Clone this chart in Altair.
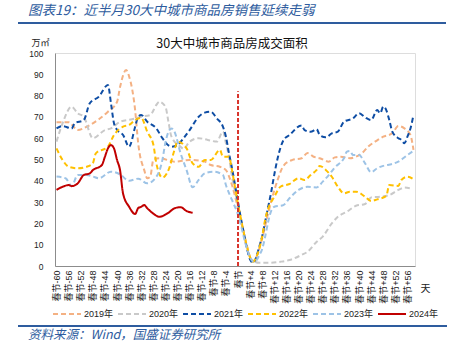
import altair as alt
import pandas as pd

years = ["2019年", "2020年", "2021年", "2022年", "2023年", "2024年"]
colors = ["#F4B183", "#C9C9C9", "#0E4DA4", "#FFC000", "#9DC3E6", "#C00000"]

d_2019 = [-60, -56, -53, -50, -46, -43, -40, -39, -37, -36, -34, -33, -31, -30, -29, -28, -26, -21, -16, -11, -9, -6, -4, -2, 0, 1, 2, 3, 4, 5, 6, 7, 8, 10, 13, 15, 18, 21, 23, 25, 27, 30, 32, 34, 37, 39, 41, 43, 46, 48, 51, 53, 55, 57, 58]
v_2019 = [67.5, 67.5, 63.8, 65.4, 68.9, 72.4, 77, 84, 92, 89, 73, 57.6, 45, 41.2, 42, 49.8, 50.6, 49, 49.8, 49, 47.4, 46.6, 45, 38, 27, 21, 15, 9, 4, 2, 4, 8, 13, 25, 40, 47, 49.8, 50.6, 53, 51.3, 50.6, 49, 51, 51.3, 50.6, 51.3, 53, 56, 59, 60.7, 62.3, 65.7, 64.6, 61.5, 54.5]

d_2020 = [-60, -58, -55, -53, -51, -48, -44, -42, -39, -35, -32, -29, -27, -26, -24, -23, -22, -19, -18, -16, -13, -10, -7, -5, -4, -3, -2, -1, 0, 1, 2, 3, 4, 5, 7, 10, 14, 17, 21, 23, 26, 28, 31, 33, 36, 39, 42, 44, 47, 50, 53, 55, 57]
v_2020 = [58.4, 67, 74.8, 71.7, 70.1, 60, 63.8, 64.6, 67.7, 68.9, 70.1, 70.9, 75.6, 77.1, 74.8, 67.7, 60.7, 56, 55, 58.4, 60, 59.2, 58.4, 63.1, 57.6, 51.3, 42, 35, 28, 21, 14, 8, 4, 2.5, 1.5, 1.5, 2, 2.8, 5.2, 6.7, 11.4, 13.8, 20, 23.1, 25.5, 28.3, 29.1, 32.2, 32.5, 33.3, 35.7, 36.8, 36.5]

d_2021 = [-60, -58, -55, -54, -51, -49, -46, -43, -42, -41, -40, -38, -36, -34, -33, -32, -30, -27, -25, -22, -20, -18, -16, -13, -11, -9, -7, -5, -4, -3, -2, -1, 0, 1, 2, 3, 4, 5, 6, 7, 8, 9, 10, 11, 12, 13, 15, 17, 21, 22, 24, 26, 27, 29, 31, 33, 35, 38, 40, 42, 44, 46, 47, 48, 49, 50, 51, 53, 54, 55, 56, 57, 58]
v_2021 = [64.6, 65.7, 64.6, 67, 68.5, 76.4, 79.5, 85, 76.4, 67, 64, 61.5, 56, 65.4, 70.1, 70.9, 67.7, 64.6, 60, 56, 56.8, 60, 63.8, 70.1, 72, 72.4, 69.3, 65.4, 60.7, 52.9, 46, 38, 30, 22, 15, 8, 3, 1.5, 4, 9, 14, 21, 28, 35, 43, 50, 59, 61.5, 66, 63.8, 63, 64.2, 61.5, 60.4, 62.3, 63.1, 67.7, 69.3, 71.7, 69.8, 68.5, 73.2, 71.7, 74.8, 73.2, 68.5, 63.1, 60, 59.2, 57.6, 60.7, 64.6, 70.9]

d_2022 = [-60, -58, -56, -53, -50, -48, -47, -43, -41, -38, -36, -34, -32, -30, -28, -27, -25, -23, -21, -20, -17, -15, -13, -11, -9, -6, -5, -3, -2, -1, 0, 1, 2, 3, 4, 5, 6, 7, 8, 9, 10, 12, 14, 17, 20, 22, 24, 26, 27, 29, 31, 33, 35, 37, 39, 42, 44, 46, 49, 50, 53, 54, 56, 58]
v_2022 = [55.2, 49.8, 46.6, 45.9, 46.6, 48.2, 52.9, 56, 61.5, 65.4, 66.2, 68.5, 69.5, 63, 57, 48.2, 41.5, 45, 54.5, 58.4, 55.2, 48.2, 46.6, 49.8, 49.8, 54.5, 51.3, 51.3, 45, 37, 29, 22, 15, 9, 4, 2, 4, 8, 14, 22, 27, 32.5, 37.2, 38.5, 41.2, 40.4, 42.7, 45.1, 47, 45.1, 41.9, 37.2, 34.1, 34.9, 34.9, 32.5, 30.5, 31.3, 32.9, 38, 37.6, 40.4, 41.9, 40.7]

d_2023 = [-60, -57, -55, -53, -50, -48, -46, -42, -39, -36, -33, -30, -27, -25, -24, -22, -21, -19, -17, -15, -13, -11, -8, -5, -4, -2, 0, 1, 2, 3, 4, 5, 6, 7, 8, 9, 10, 11, 12, 15, 17, 20, 23, 26, 28, 30, 32, 35, 36, 37, 38, 40, 42, 44, 46, 48, 51, 53, 56, 58]
v_2023 = [42, 41.2, 37.5, 42.7, 42.7, 42, 41.2, 44.3, 43, 40, 41, 38.8, 41.9, 49.8, 58, 64.6, 63, 53, 45, 37, 40.4, 43.5, 44.3, 42.7, 38, 31, 24, 19, 13, 8, 4, 2, 2.5, 5, 8, 14, 21, 26, 27.8, 28.6, 31.8, 35.7, 37.2, 36.9, 39.6, 42.7, 46.3, 50.6, 53.7, 54, 52.1, 52.1, 48.2, 44, 45.9, 47, 47.9, 49, 52.1, 54.1]

d_2024 = [-60, -58, -56, -55, -53, -51, -49, -48, -45, -44, -43, -42, -41, -40, -39, -38, -36, -34, -33, -32, -31, -30, -28, -26, -23, -21, -19, -17, -15]
v_2024 = [35.7, 37.2, 38, 37.5, 38.8, 42.7, 43.5, 45, 47.4, 51.3, 55.2, 56.8, 55.2, 49.8, 45, 34, 27.8, 24.4, 27.2, 27.8, 28.6, 27.1, 24.6, 23.1, 25, 27.1, 27.6, 25.8, 25]

tick_days = list(range(-60, 57, 4))
header_text = "图表19：近半月30大中城市商品房销售延续走弱"
footer_text = "资料来源：Wind，国盛证券研究所"
chart_title = "30大中城市商品房成交面积"

series = [(years[0], d_2019, v_2019), (years[1], d_2020, v_2020), (years[2], d_2021, v_2021),
          (years[3], d_2022, v_2022), (years[4], d_2023, v_2023), (years[5], d_2024, v_2024)]
rows = []
for y, ds, vs in series:
    for d, v in zip(ds, vs):
        rows.append({"year": y, "day": d, "value": v})
df = pd.DataFrame(rows)

FONT = "Liberation Sans, Noto Sans CJK SC"
CJK = "Noto Sans CJK SC, Liberation Sans"

legend = alt.Legend(orient="none", legendX=-3, legendY=246, direction="horizontal", title=None,
                    symbolType="stroke", symbolSize=784, symbolStrokeWidth=2, labelFontSize=9,
                    labelOffset=2, columnPadding=0, padding=0, labelColor="#222", labelFont=FONT)

x_axis = alt.Axis(values=tick_days,
                  labelExpr="datum.value == 0 ? '春节' : (datum.value > 0 ? '春节+' + datum.value : '春节' + datum.value)",
                  labelAngle=270, labelAlign="right", labelBaseline="middle", labelFontSize=9,
                  labelOverlap=False, labelFlush=False, labelSeparation=0, ticks=False, grid=False,
                  domainColor="#8c8c8c",
                  labelPadding=4, labelColor="#222", labelFont=FONT,
                  title="天", titleAngle=0, titleX=370, titleY=22, titleFontSize=10,
                  titleFontWeight="normal", titleColor="#222", titleFont=CJK,
                  titleAlign="center", titleBaseline="middle")
y_axis = alt.Axis(values=list(range(0, 101, 10)), ticks=False, grid=False, domainColor="#8c8c8c",
                  labelPadding=12, labelFontSize=8.5, labelColor="#222", labelFont=FONT,
                  labelOverlap=False,
                  title="万㎡", titleAngle=0, titleX=-15, titleY=-11, titleFontSize=9,
                  titleFontWeight="normal", titleColor="#222", titleFont=CJK,
                  titleAlign="center", titleBaseline="middle")
x_scale = alt.Scale(domain=[-60.5, 58.5], nice=False, zero=False)
y_scale = alt.Scale(domain=[0, 100], nice=False)

lines = alt.Chart(df).mark_line(interpolate="monotone").encode(
    x=alt.X("day:Q", scale=x_scale, axis=x_axis),
    y=alt.Y("value:Q", scale=y_scale, axis=y_axis),
    color=alt.Color("year:N", scale=alt.Scale(domain=years, range=colors), legend=legend),
    strokeDash=alt.StrokeDash("year:N", scale=alt.Scale(domain=years, range=[[5, 3]] * 5 + [[1, 0]]), legend=legend),
    strokeWidth=alt.StrokeWidth("year:N", scale=alt.Scale(domain=years, range=[2, 2, 2, 2, 2, 3]), legend=legend),
    order="day:Q",
)

vline_df = pd.DataFrame({"day": [0], "value": [0], "hi": [82]})
vline = alt.Chart(vline_df).mark_rule(color="#D9342B", strokeDash=[4, 2], strokeWidth=2).encode(
    x=alt.X("day:Q", scale=x_scale, axis=x_axis),
    y=alt.Y("value:Q", scale=y_scale, axis=y_axis),
    y2="hi:Q")

one = pd.DataFrame({"a": [0]})
title_mark = alt.Chart(one).mark_text(align="center", baseline="middle", fontSize=12.5, color="#111",
                                      font=CJK).encode(
    x=alt.value(177), y=alt.value(-9), text=alt.value(chart_title))
header = alt.Chart(one).mark_text(align="left", baseline="middle", fontSize=13.5, fontStyle="italic",
                                  color="#2E5C9E", font=CJK).encode(
    x=alt.value(-27), y=alt.value(-42), text=alt.value(header_text))
header_line = alt.Chart(one).mark_rule(color="#2E5C9E", strokeWidth=2).encode(
    x=alt.value(-37), x2=alt.value(391), y=alt.value(-30))
footer_line = alt.Chart(one).mark_rule(color="#2E5C9E", strokeWidth=2).encode(
    x=alt.value(-37), x2=alt.value(392), y=alt.value(273))
footer = alt.Chart(one).mark_text(align="left", baseline="middle", fontSize=12.5, fontStyle="italic",
                                  color="#2E5C9E", font=CJK).encode(
    x=alt.value(-27), y=alt.value(282), text=alt.value(footer_text))

chart = alt.layer(lines, vline, title_mark, header, header_line, footer_line, footer).properties(
    width=360, height=213,
    autosize=alt.AutoSizeParams(type="none"),
    padding={"left": 55, "top": 53, "right": 36, "bottom": 85},
).configure_view(stroke=None).configure_axis(labelOverlap=False).configure(background="white")

chart.save("out.html", embed_options={"renderer": "svg", "actions": False})
